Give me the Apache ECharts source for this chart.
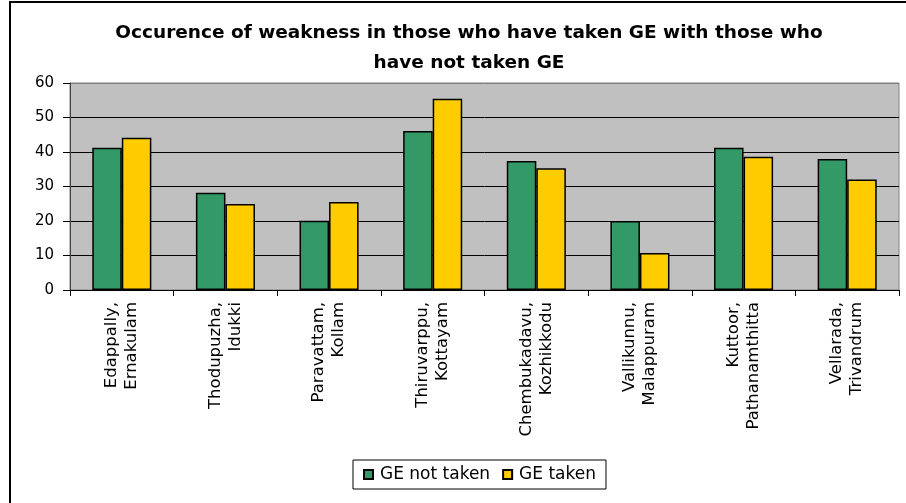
<!DOCTYPE html>
<html>
<head>
<meta charset="utf-8">
<script src="https://cdn.jsdelivr.net/npm/echarts@6/dist/echarts.min.js"></script>
<style>html,body{margin:0;padding:0;background:#fff}#c{width:906px;height:503px}</style>
</head>
<body>
<div id="c"></div>
<script>
const categories = ["Edappally,\nErnakulam","Thodupuzha,\nIdukki","Paravattam,\nKollam","Thiruvarppu,\nKottayam","Chembukadavu,\nKozhikkodu","Vallikunnu,\nMalappuram","Kuttoor,\nPathanamthitta","Vellarada,\nTrivandrum"];
const seriesNames = ["GE not taken","GE taken"];
const geNotTaken = [41.2, 28.2, 20.1, 46.1, 37.4, 20.0, 41.2, 38.0];
const geTaken = [44.1, 24.9, 25.5, 55.4, 35.3, 10.7, 38.6, 32.0];
const yTicks = {min: 0, max: 60, interval: 10};
const titleText = "Occurence of weakness in those who have taken GE with those who\nhave not taken GE";

const chart = echarts.init(document.getElementById('c'), null, {renderer: 'canvas'});
const FONT = '"DejaVu Sans", sans-serif';
chart.setOption({
  animation: false,
  backgroundColor: '#fff',
  graphic: [{
    type: 'rect', z: 100, silent: true,
    shape: {x: 10, y: 2, width: 1000, height: 1000},
    style: {fill: 'none', stroke: '#000', lineWidth: 2}
  }],
  title: {
    text: titleText,
    left: 464, top: 13, textAlign: 'center',
    textStyle: {fontFamily: FONT, fontWeight: 'bold', fontSize: 18.5, color: '#000', lineHeight: 30}
  },
  legend: {
    data: seriesNames,
    left: 353, top: 460,
    orient: 'horizontal',
    padding: [6, 10, 6, 10],
    itemGap: 12,
    itemWidth: 9, itemHeight: 9,
    borderColor: '#000', borderWidth: 1,
    backgroundColor: '#fff',
    icon: 'rect',
    textStyle: {fontFamily: FONT, fontSize: 17, color: '#000', padding: [0, 0, 0, 2]}
  },
  grid: {
    left: 70, right: 7, top: 83, bottom: 213,
    show: true, backgroundColor: '#C0C0C0', borderColor: '#808080', borderWidth: 1
  },
  xAxis: {
    type: 'category',
    data: categories,
    axisLine: {lineStyle: {color: '#000', width: 1}},
    axisTick: {show: true, length: 6, lineStyle: {color: '#000'}},
    axisLabel: {
      interval: 0, rotate: 90, margin: 12,
      fontFamily: FONT, fontSize: 16.5, color: '#000', lineHeight: 20
    }
  },
  yAxis: {
    type: 'value',
    min: yTicks.min, max: yTicks.max, interval: yTicks.interval,
    axisLine: {show: true, lineStyle: {color: '#404040', width: 1}},
    axisTick: {show: true, length: 7, lineStyle: {color: '#000'}},
    axisLabel: {margin: 16, fontFamily: FONT, fontSize: 15, color: '#000'},
    splitLine: {show: true, lineStyle: {color: ['#000','#000','#000','#000','#000','#000','#808080'], width: 1}}
  },
  series: [
    {
      name: seriesNames[0], type: 'bar', data: geNotTaken,
      barGap: '0%', barCategoryGap: '43%',
      itemStyle: {color: '#339966', borderColor: '#000', borderWidth: 1.5}
    },
    {
      name: seriesNames[1], type: 'bar', data: geTaken,
      barGap: '0%', barCategoryGap: '43%',
      itemStyle: {color: '#FFCC00', borderColor: '#000', borderWidth: 1.5}
    }
  ]
});
</script>
</body>
</html>
